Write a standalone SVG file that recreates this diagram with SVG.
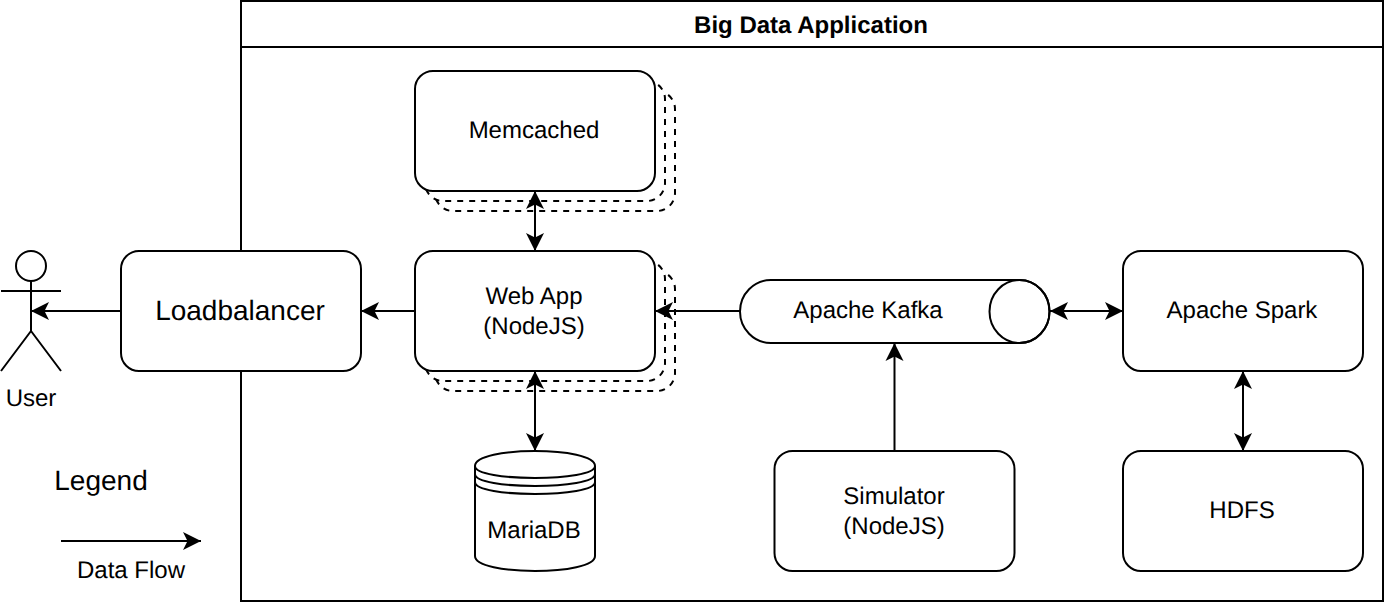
<svg xmlns="http://www.w3.org/2000/svg" width="1384" height="602" viewBox="0 0 1384 602">
<style>
.s{fill:#fff;stroke:#000;stroke-width:2}
.d{fill:#fff;stroke:#000;stroke-width:2;stroke-dasharray:6 6}
.o{fill:none;stroke:#000;stroke-width:2}
.c{fill:none;stroke:#000;stroke-width:2;marker-end:url(#a)}
.b{marker-start:url(#r)}
text{font-family:"Liberation Sans",Arial,sans-serif;font-size:24px;fill:#000;text-anchor:middle;text-rendering:geometricPrecision}
</style>
<defs>
<marker id="a" markerUnits="userSpaceOnUse" markerWidth="22" markerHeight="20" refX="20" refY="10" orient="auto"><path d="M20 10L2 1L6.500 10L2 19Z" fill="#000"/></marker>
<marker id="r" markerUnits="userSpaceOnUse" markerWidth="22" markerHeight="20" refX="2" refY="10" orient="auto"><path d="M2 10L20 1L15.500 10L20 19Z" fill="#000"/></marker>
</defs>
<rect width="1384" height="602" fill="#fff"/>
<g id="big-data-application">
<rect class="s" x="241" y="1" width="1142" height="600"/>
<path class="o" d="M241 47H1383"/>
<text x="811" y="33" style="font-weight:bold">Big Data Application</text>
</g>
<g id="loadbalancer"><rect class="s" x="121" y="251" width="240" height="120" rx="18"/><text x="240" y="320" style="font-size:28px">Loadbalancer</text></g>
<g id="memcached">
<rect class="d" x="435" y="91" width="240" height="120" rx="18"/>
<rect class="d" x="425" y="81" width="240" height="120" rx="18"/>
<rect class="s" x="415" y="71" width="240" height="120" rx="18"/>
<text x="534" y="138">Memcached</text>
</g>
<g id="web-app">
<rect class="d" x="435" y="271" width="240" height="120" rx="18"/>
<rect class="d" x="425" y="261" width="240" height="120" rx="18"/>
<rect class="s" x="415" y="251" width="240" height="120" rx="18"/>
<text x="534" y="304">Web App</text><text x="534" y="334">(NodeJS)</text>
</g>
<g id="mariadb">
<path class="s" d="M475 466C475 446 595 446 595 466V556C595 576 475 576 475 556Z"/>
<path class="o" d="M475 466C475 482 595 482 595 466M475 474C475 490 595 490 595 474M475 482C475 498 595 498 595 482"/>
<text x="534" y="538">MariaDB</text>
</g>
<g id="apache-kafka">
<path class="s" d="M771 280H1019.500A30 31.500 0 0 1 1019.500 343H771A31 31.500 0 0 1 771 280Z"/>
<ellipse class="o" cx="1019.500" cy="311.500" rx="30" ry="31.500"/>
<text x="868" y="318">Apache Kafka</text>
</g>
<g id="apache-spark"><rect class="s" x="1123" y="251" width="240" height="120" rx="18"/><text x="1242" y="318">Apache Spark</text></g>
<g id="simulator"><rect class="s" x="774.500" y="451" width="240" height="120" rx="18"/><text x="894" y="504">Simulator</text><text x="894" y="534">(NodeJS)</text></g>
<g id="hdfs"><rect class="s" x="1123" y="451" width="240" height="120" rx="18"/><text x="1242" y="518">HDFS</text></g>
<g id="user">
<circle class="s" cx="31" cy="266" r="15"/>
<path class="o" d="M31 281V331M1 291H61M31 331L1 371M31 331L61 371"/>
<text x="31" y="406">User</text>
</g>
<g id="legend"><text x="101" y="490" style="font-size:28px">Legend</text><text x="131" y="578">Data Flow</text></g>
<g id="connectors">
<path class="c" d="M121 311H31"/>
<path class="c" d="M415 311H361"/>
<path class="c" d="M740 311H655"/>
<path class="c b" d="M535 191V251"/>
<path class="c b" d="M535 371V451"/>
<path class="c b" d="M1050 311H1123"/>
<path class="c" d="M894.500 451V343"/>
<path class="c b" d="M1243 371V451"/>
<path class="c" d="M61 541H201"/>
</g>
</svg>
